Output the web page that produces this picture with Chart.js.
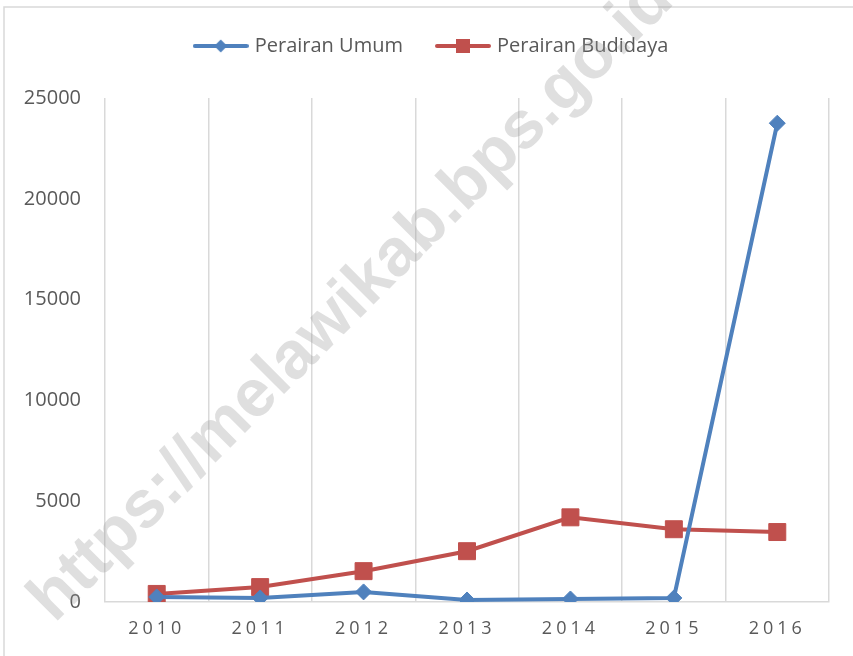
<!DOCTYPE html>
<html>
<head>
<meta charset="utf-8">
<script src="https://cdn.jsdelivr.net/npm/chart.js@4.4.1/dist/chart.umd.min.js"></script>
<style>
  html, body { margin: 0; padding: 0; background: #fff; }
  #wrap { width: 853px; height: 656px; position: relative; }
</style>
</head>
<body>
<div id="wrap"><canvas id="fishChart"></canvas></div>
<script>
// data
const years = ["2010", "2011", "2012", "2013", "2014", "2015", "2016"];
const perairanUmum = [250, 200, 500, 100, 150, 200, 23750];
const perairanBudidaya = [400, 740, 1530, 2520, 4200, 3610, 3470];
const yTicks = [0, 5000, 10000, 15000, 20000, 25000];

const blue = "#4F81BD";
const red = "#C0504D";
const textGrey = "#595959";
const gridGrey = "#d9d9d9";

// little line+marker icons for the legend
function legendIcon(color, shape) {
    const c = document.createElement("canvas");
    c.width = 56;
    c.height = 16;
    const g = c.getContext("2d");
    g.strokeStyle = color;
    g.lineWidth = 4;
    g.lineCap = "round";
    g.beginPath();
    g.moveTo(2, 8);
    g.lineTo(54, 8);
    g.stroke();
    g.fillStyle = color;
    if (shape === "diamond") {
        g.beginPath();
        g.moveTo(28, 1.5);
        g.lineTo(34.5, 8);
        g.lineTo(28, 14.5);
        g.lineTo(21.5, 8);
        g.closePath();
        g.fill();
    } else {
        g.fillRect(21, 1, 14, 14);
    }
    return c;
}
const icons = [legendIcon(blue, "diamond"), legendIcon(red, "square")];

// frame + watermark + legend spacing
const extras = {
    id: "extras",
    beforeInit(chart) {
        const lg = chart.legend;
        const fit = lg.fit;
        lg.fit = function () {
            fit.call(this);
            this.height += 32;
        };
        const draw = lg.draw;
        lg.draw = function () {
            chart.ctx.save();
            chart.ctx.translate(18, 0);
            draw.call(this);
            chart.ctx.restore();
        };
    },
    beforeDraw(chart) {
        const ctx = chart.ctx;
        ctx.save();
        ctx.strokeStyle = gridGrey;
        ctx.lineWidth = 1.5;
        ctx.strokeRect(4, 7, 900, 700);
        ctx.restore();

        // x labels are spaced out
        const xs = chart.scales.x;
        if (!xs._spaced) {
            const draw = xs.drawLabels;
            xs.drawLabels = function (area) {
                chart.ctx.save();
                chart.ctx.letterSpacing = "4px";
                draw.call(this, area);
                chart.ctx.restore();
            };
            xs._spaced = true;
        }
    },
    afterDraw(chart) {
        const ctx = chart.ctx;
        ctx.save();
        ctx.translate(352, 300);
        ctx.rotate(-45 * Math.PI / 180);
        ctx.font = "bold 67px 'Liberation Sans', Arial, sans-serif";
        ctx.fillStyle = "rgba(150,150,150,0.3)";
        ctx.textAlign = "center";
        ctx.textBaseline = "middle";
        ctx.fillText("https://melawikab.bps.go.id", 0, 0);
        ctx.restore();
    }
};

new Chart(document.getElementById("fishChart"), {
    type: "line",
    data: {
        labels: years,
        datasets: [{
            label: "Perairan Umum",
            data: perairanUmum,
            borderColor: blue,
            backgroundColor: blue,
            borderWidth: 4,
            pointStyle: "rectRot",
            pointRadius: 8,
            pointBorderWidth: 1,
            tension: 0
        }, {
            label: "Perairan Budidaya",
            data: perairanBudidaya,
            borderColor: red,
            backgroundColor: red,
            borderWidth: 4,
            pointStyle: "rect",
            pointRadius: 12,
            pointBorderWidth: 1,
            tension: 0
        }]
    },
    options: {
        responsive: true,
        maintainAspectRatio: false,
        animation: false,
        layout: { padding: { top: 0, right: 24, bottom: 0, left: 0 } },
        plugins: {
            tooltip: { enabled: false },
            legend: {
                position: "top",
                labels: {
                    usePointStyle: true,
                    pointStyleWidth: 48,
                    padding: 36,
                    color: textGrey,
                    font: { family: "'Open Sans', sans-serif", size: 20 },
                    generateLabels(chart) {
                        const items = Chart.defaults.plugins.legend.labels.generateLabels(chart);
                        items.forEach((it, i) => { it.pointStyle = icons[i]; });
                        return items;
                    }
                }
            }
        },
        scales: {
            x: {
                offset: true,
                grid: { offset: true, color: gridGrey, lineWidth: 1.5, drawTicks: false },
                border: { color: gridGrey, width: 1.5 },
                ticks: {
                    color: textGrey,
                    padding: 16,
                    maxRotation: 0,
                    font: { family: "'Open Sans', sans-serif", size: 18 }
                },
                afterFit(scale) { scale.height = 54; }
            },
            y: {
                min: 0,
                max: 25000,
                grid: { display: false, drawTicks: false },
                border: { display: false },
                afterBuildTicks(scale) { scale.ticks = yTicks.map(v => ({ value: v })); },
                ticks: {
                    color: textGrey,
                    padding: 24,
                    font: { family: "'Open Sans', sans-serif", size: 20 },
                    callback: v => String(v)
                },
                afterFit(scale) { scale.width = 105; }
            }
        }
    },
    plugins: [extras]
});
</script>
</body>
</html>
